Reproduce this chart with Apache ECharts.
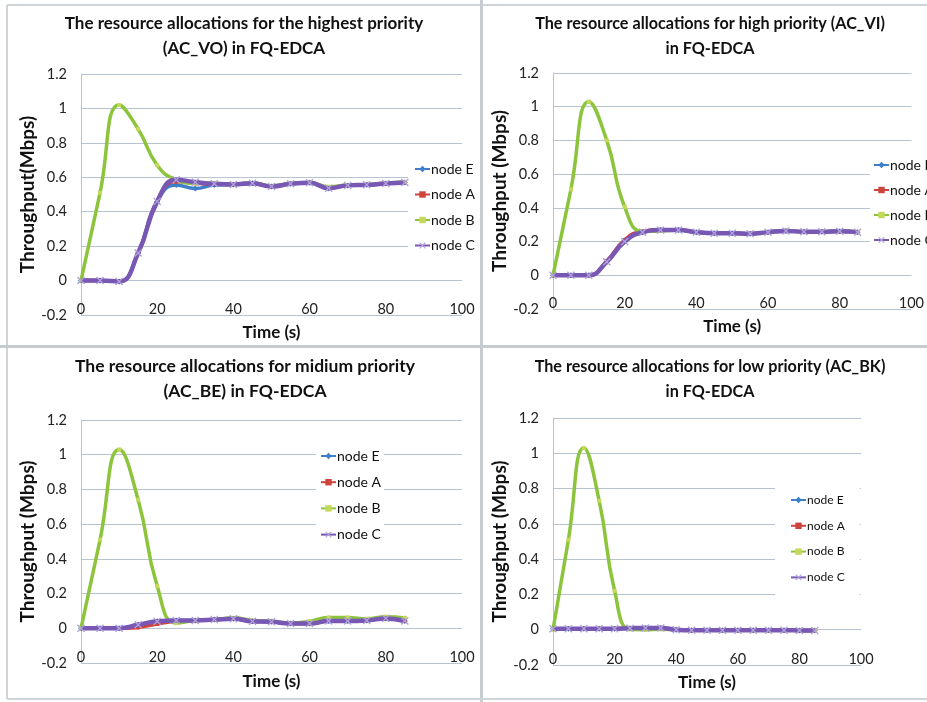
<!DOCTYPE html>
<html>
<head>
<meta charset="utf-8">
<script src="https://cdn.jsdelivr.net/npm/echarts@6/dist/echarts.min.js"></script>
<style>
html,body{margin:0;padding:0;background:#fff;}
#chart{width:927px;height:702px;}
</style>
</head>
<body>
<div id="chart"></div>
<script>
// ---- data ----
const time = [0, 5, 10, 15, 20, 25, 30, 35, 40, 45, 50, 55, 60, 65, 70, 75, 80, 85];
const nodeNames = ['node E', 'node A', 'node B', 'node C'];
const xTicks = [0, 20, 40, 60, 80, 100];
const yTicks = [-0.2, 0, 0.2, 0.4, 0.6, 0.8, 1, 1.2];

const titles = [
  'The resource allocations for the highest priority\n(AC_VO) in FQ-EDCA',
  'The resource allocations for high priority (AC_VI)\nin FQ-EDCA',
  'The resource allocations for midium priority\n(AC_BE) in FQ-EDCA',
  'The resource allocations for low priority (AC_BK)\nin FQ-EDCA'
];
const yTitles = ['Throughput(Mbps)', 'Throughput (Mbps)', 'Throughput (Mbps)', 'Throughput (Mbps)'];
const xTitle = 'Time (s)';

// AC_VO
const voE = [0, 0, -0.005, 0.16, 0.46, 0.555, 0.535, 0.555, 0.558, 0.566, 0.547, 0.562, 0.568, 0.537, 0.553, 0.556, 0.564, 0.57];
const voA = [0, 0, -0.005, 0.16, 0.46, 0.575, 0.565, 0.56, 0.558, 0.566, 0.547, 0.562, 0.568, 0.54, 0.553, 0.556, 0.564, 0.57];
const voB = [0, 0.51, 1.02, 0.88, 0.67, 0.585, 0.565, 0.565, 0.56, 0.568, 0.55, 0.565, 0.57, 0.545, 0.555, 0.558, 0.566, 0.572];
const voC = [0, 0, -0.005, 0.16, 0.46, 0.585, 0.572, 0.562, 0.558, 0.566, 0.547, 0.562, 0.568, 0.537, 0.553, 0.556, 0.564, 0.57];
// AC_VI
const viE = [0, 0, 0, 0.08, 0.2, 0.255, 0.268, 0.268, 0.256, 0.25, 0.25, 0.246, 0.256, 0.263, 0.258, 0.258, 0.261, 0.256];
const viA = [0, 0, 0, 0.085, 0.21, 0.262, 0.27, 0.27, 0.256, 0.25, 0.25, 0.246, 0.256, 0.263, 0.258, 0.258, 0.261, 0.256];
const viB = [0, 0.51, 1.03, 0.8, 0.405, 0.26, 0.262, 0.268, 0.256, 0.25, 0.25, 0.247, 0.257, 0.264, 0.259, 0.259, 0.262, 0.258];
const viC = [0, 0, 0, 0.08, 0.2, 0.255, 0.268, 0.268, 0.256, 0.25, 0.25, 0.246, 0.256, 0.263, 0.258, 0.258, 0.261, 0.256];
// AC_BE
const beE = [0, 0, 0, 0.02, 0.04, 0.045, 0.045, 0.05, 0.055, 0.04, 0.037, 0.027, 0.027, 0.042, 0.042, 0.045, 0.057, 0.042];
const beA = [0, 0, 0, 0.005, 0.025, 0.04, 0.045, 0.05, 0.055, 0.04, 0.037, 0.027, 0.027, 0.042, 0.042, 0.045, 0.057, 0.042];
const beB = [0, 0.51, 1.03, 0.74, 0.243, 0.03, 0.045, 0.05, 0.06, 0.045, 0.04, 0.03, 0.04, 0.062, 0.062, 0.055, 0.067, 0.06];
const beC = [0, 0, 0, 0.02, 0.04, 0.045, 0.045, 0.05, 0.055, 0.04, 0.037, 0.027, 0.027, 0.042, 0.042, 0.045, 0.057, 0.042];
// AC_BK
const bkE = [0.005, 0.005, 0.005, 0.005, 0.006, 0.008, 0.01, 0.01, 0, -0.003, -0.003, -0.003, -0.003, -0.003, -0.003, -0.003, -0.004, -0.005];
const bkA = [0.005, 0.005, 0.005, 0.005, 0.006, 0.008, 0.01, 0.01, 0, -0.003, -0.002, -0.002, -0.002, -0.002, -0.003, -0.003, -0.004, -0.005];
const bkB = [0, 0.51, 1.03, 0.73, 0.22, 0.002, 0, 0.002, 0, -0.002, -0.002, -0.002, -0.002, -0.002, -0.002, -0.002, -0.003, -0.004];
const bkC = [0.005, 0.005, 0.005, 0.005, 0.006, 0.008, 0.01, 0.01, 0, -0.003, -0.003, -0.003, -0.003, -0.003, -0.003, -0.003, -0.004, -0.005];

const panelData = [
  [voE, voA, voB, voC],
  [viE, viA, viB, viC],
  [beE, beA, beB, beC],
  [bkE, bkA, bkB, bkC]
];

// ---- layout / style ----
const FONT = 'Lato';
const GRID_COLOR = '#b7c3cf';
const grids = [
  { left: 81, top: 74, width: 381, height: 241 },
  { left: 553, top: 73, width: 367, height: 236 },
  { left: 81, top: 420, width: 381, height: 243 },
  { left: 553, top: 418, width: 308, height: 247 }
];
const titlePos = [
  { x: 244, y: 11, fs: 17 },
  { x: 710, y: 11, fs: 16.2 },
  { x: 245, y: 354, fs: 17.5 },
  { x: 710, y: 354, fs: 16.2 }
];
const legendPos = [
  { left: 408, top: 157, gap: 9.5, fs: 14, padding: [4, 5, 4, 6] },
  { left: 870, top: 153, gap: 9, fs: 14, padding: [4, 5, 4, 3] },
  { left: 316, top: 440, gap: 10.2, fs: 14, padding: [8, 3, 8, 4] },
  { left: 775, top: 482, gap: 9.8, fs: 12, padding: [10, 15, 10, 15] }
];
const xNameGap = [9, 9, 10, 9];
const yNameGap = [44, 42, 44, 42];

const X_PATH = 'path://M0,1.2L1.2,0L5,3.8L8.8,0L10,1.2L6.2,5L10,8.8L8.8,10L5,6.2L1.2,10L0,8.8L3.8,5Z';
const seriesStyle = [
  { color: '#3d7fc9', mcolor: '#3d7fc9', symbol: 'diamond', size: 6, width: 3.5 },
  { color: '#cf433d', mcolor: '#cf433d', symbol: 'rect', size: 4, width: 3.5 },
  { color: '#8cc43c', mcolor: '#c6d85a', symbol: 'rect', size: 4, width: 3.5 },
  { color: '#7857b5', mcolor: '#aea2d6', symbol: X_PATH, size: 8, width: 4.5 }
];

const option = {
  backgroundColor: '#fff',
  animation: false,
  textStyle: { fontFamily: FONT },
  title: titles.map((t, i) => ({
    text: t,
    left: titlePos[i].x,
    top: titlePos[i].y,
    textAlign: 'center',
    padding: 0,
    textStyle: { fontFamily: FONT, fontSize: titlePos[i].fs, fontWeight: 'bold', color: '#111', lineHeight: 25 }
  })),
  legend: legendPos.map((l, i) => ({
    data: nodeNames,
    orient: 'vertical',
    left: l.left,
    top: l.top,
    itemGap: l.gap,
    itemWidth: 15,
    itemHeight: 8,
    padding: l.padding,
    backgroundColor: '#ffffff',
    selectedMode: false,
    textStyle: { fontFamily: FONT, fontSize: l.fs, color: '#111', lineHeight: 16, padding: [0, 0, 0, -4] }
  })),
  grid: grids.map(g => Object.assign({ containLabel: false }, g)),
  xAxis: grids.map((g, i) => ({
    type: 'value',
    gridIndex: i,
    min: xTicks[0],
    max: xTicks[xTicks.length - 1],
    interval: xTicks[1] - xTicks[0],
    name: xTitle,
    nameLocation: 'middle',
    nameGap: xNameGap[i],
    nameTextStyle: { fontFamily: FONT, fontSize: 17, fontWeight: 'bold', color: '#111', verticalAlign: 'top' },
    axisLine: { show: false, onZero: false },
    axisTick: { show: false },
    splitLine: { show: false },
    axisLabel: { margin: -6, verticalAlign: 'middle', fontFamily: FONT, fontSize: 14.5, color: '#222', showMinLabel: true, showMaxLabel: true }
  })),
  yAxis: grids.map((g, i) => ({
    type: 'value',
    gridIndex: i,
    min: yTicks[0],
    max: yTicks[yTicks.length - 1],
    interval: 0.2,
    name: yTitles[i],
    nameLocation: 'middle',
    nameGap: yNameGap[i],
    nameTextStyle: { fontFamily: FONT, fontSize: 19, fontWeight: 'bold', color: '#111' },
    axisLine: { show: true, lineStyle: { color: GRID_COLOR, width: 1 } },
    axisTick: { show: false },
    splitLine: { show: true, lineStyle: { color: GRID_COLOR, width: 1 } },
    axisLabel: { margin: 14, fontFamily: FONT, fontSize: 14.5, color: '#222', formatter: v => String(+v.toFixed(1)) }
  })),
  series: [],
  graphic: [
    { type: 'line', shape: { x1: 7, y1: 5, x2: 7, y2: 699 }, style: { stroke: '#cfd4d9', lineWidth: 2 }, z: 100 },
    { type: 'line', shape: { x1: 7, y1: 5, x2: 927, y2: 5 }, style: { stroke: '#cfd4d9', lineWidth: 2 }, z: 100 },
    { type: 'line', shape: { x1: 481.5, y1: 0, x2: 481.5, y2: 702 }, style: { stroke: '#c6cbd0', lineWidth: 3 }, z: 100 },
    { type: 'line', shape: { x1: 0, y1: 346.5, x2: 927, y2: 346.5 }, style: { stroke: '#c6cbd0', lineWidth: 3 }, z: 100 },
    { type: 'line', shape: { x1: 7, y1: 699, x2: 927, y2: 699 }, style: { stroke: '#cfd4d9', lineWidth: 2 }, z: 100 }
  ]
};

panelData.forEach((arrs, p) => {
  arrs.forEach((vals, k) => {
    const st = seriesStyle[k];
    option.series.push({
      type: 'line',
      name: nodeNames[k],
      xAxisIndex: p,
      yAxisIndex: p,
      smooth: 0.5,
      data: time.map((t, j) => [t, vals[j]]),
      symbol: st.symbol,
      symbolSize: st.size,
      showSymbol: true,
      lineStyle: { color: st.color, width: st.width },
      itemStyle: { color: st.mcolor, borderWidth: 0 },
      z: 2 + k
    });
  });
});

const chart = echarts.init(document.getElementById('chart'), null, { renderer: 'canvas' });
chart.setOption(option);
</script>
</body>
</html>
